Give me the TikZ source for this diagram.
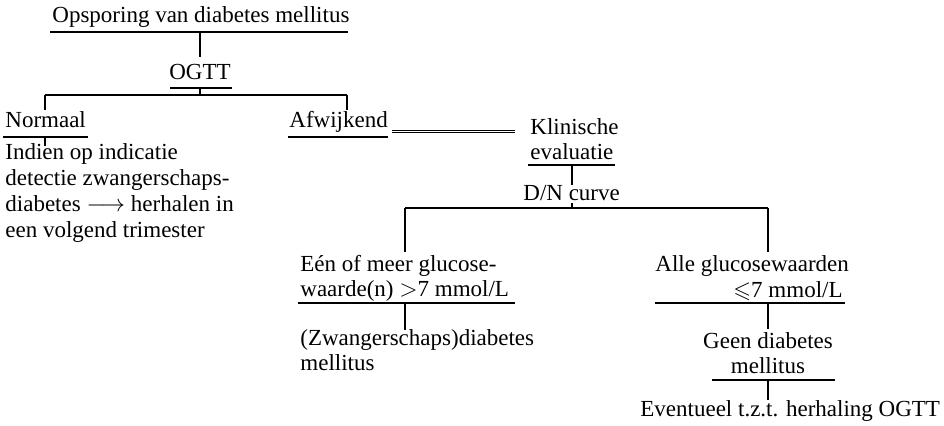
\documentclass[tikz,border=0pt]{standalone}
\usepackage{amssymb}
\usepackage{fontspec}
\setmainfont{Liberation Serif}
\begin{document}
\begin{tikzpicture}[x=0.5pt,y=-0.5pt,
  txt/.style={inner sep=0pt, anchor=base west, align=left,
              font=\fontsize{11.5}{12.5}\selectfont},
  rule/.style={line width=0.7pt},
  link/.style={line width=0.55pt}]
\useasboundingbox (0,0) rectangle (944,426);

% text blocks (multi-line blocks are placed by the baseline of their last line)
\node[txt] (title) at (52,23) {Opsporing van diabetes mellitus};
\node[txt,anchor=base] (ogtt) at (200,80) {OGTT};
\node[txt] (normaal) at (5,128) {Normaal};
\node[txt] (afw) at (289,128) {Afwijkend};
\node[txt,font=\fontsize{11.5}{13}\selectfont] (indien) at (5,238) {Indien op indicatie\\detectie zwangerschaps-\\diabetes $\longrightarrow$ herhalen in\\een volgend trimester};
\node[txt] (klin) at (530,160) {Klinische\\evaluatie};
\node[txt] (dn) at (523,201) {D/N curve};
\node[txt] (een) at (300,297) {Eén of meer glucose-\\waarde(n) $>$7 mmol/L};
\node[txt] (zw) at (300,371) {(Zwangerschaps)diabetes\\mellitus};
\node[txt] (alle) at (655,272) {Alle glucosewaarden};
\node[txt,anchor=base east] (le) at (843,298) {$\leqslant$7 mmol/L};
\node[txt,align=center,anchor=base] (geen) at (768,374) {Geen diabetes\\mellitus};
\node[txt] (evt) at (640,417) {Eventueel t.z.t. herhaling OGTT};

% underlines
\coordinate (uT) at (200,32);
\coordinate (uO) at (200,88);
\coordinate (uN) at (45,137);
\coordinate (uK) at (572,165);
\coordinate (uE) at (405,303);
\coordinate (uA) at (768,303);
\coordinate (uG) at (768,380);
\draw[rule] (50,32) -- (348,32);
\draw[rule] (170,88) -- (232,88);
\draw[rule] (3,137) -- (88,137);
\draw[rule] (288,137) -- (388,137);
\draw[rule] (528,165) -- (615,165);
\draw[rule] (298,303) -- (515,303);
\draw[rule] (655,303) -- (845,303);
\draw[rule] (712,380) -- (835,380);

% branch points
\coordinate (b1) at (200,95);
\coordinate (b1l) at (45,95);
\coordinate (b1r) at (347,95);
\coordinate (b2) at (572,208);
\coordinate (b2l) at (405,208);
\coordinate (b2r) at (768,208);

% connectors
\draw[link] (uT) -- (200,57);
\draw[link] (uO) -- (b1);
\draw[rule] (b1l) -- (b1r);
\draw[link] (b1l) -- (45,110);
\draw[link] (b1r) -- (347,110);
\draw[link] (uN) -- (45,146);
\coordinate (d0) at (392,131.5);
\coordinate (d1) at (515,131.5);
\draw[link,double distance=0.8pt] (d0) -- (d1);
\draw[link] (uK) -- (572,185);
\draw[link] (572,203) -- (b2);
\draw[rule] (b2l) -- (b2r);
\draw[link] (b2l) -- (405,252);
\draw[link] (b2r) -- (768,252);
\draw[link] (uE) -- (405,330);
\draw[link] (uA) -- (768,329);
\draw[link] (uG) -- (768,400);
\end{tikzpicture}
\end{document}
